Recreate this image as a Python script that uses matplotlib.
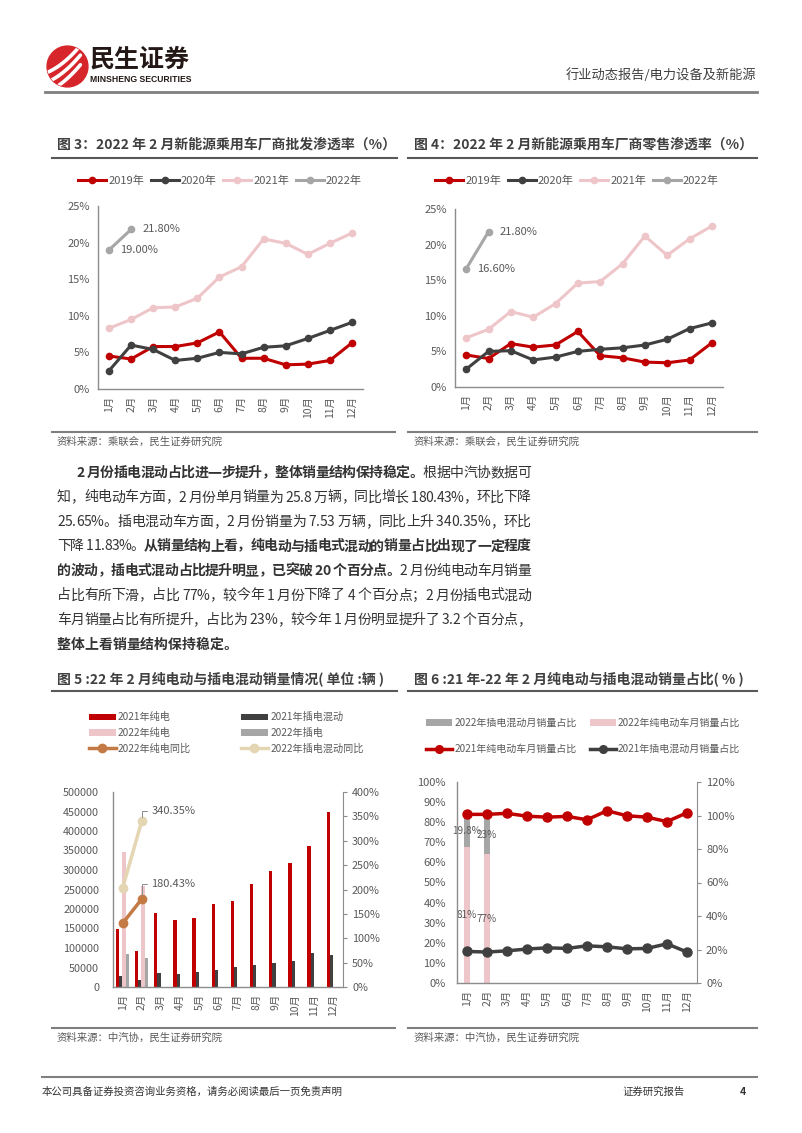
import numpy as np
import matplotlib
matplotlib.use('Agg')
import matplotlib.pyplot as plt
from matplotlib.patches import Circle
from matplotlib.lines import Line2D
from matplotlib.ticker import FuncFormatter, MultipleLocator

plt.rcParams['font.family'] = ['Noto Sans CJK SC', 'DejaVu Sans']

W, H = 802, 1133

months = [f'{i}月' for i in range(1, 13)]

# 图3 批发渗透率 (%)
pf_2019 = [4.5, 4.1, 5.8, 5.8, 6.3, 7.8, 4.2, 4.2, 3.3, 3.4, 3.9, 6.3]
pf_2020 = [2.5, 6.0, 5.4, 3.9, 4.2, 5.0, 4.8, 5.7, 5.9, 6.9, 8.0, 9.1]
pf_2021 = [8.3, 9.5, 11.1, 11.2, 12.4, 15.3, 16.7, 20.5, 19.9, 18.4, 19.9, 21.3]
pf_2022 = [19.0, 21.8]

# 图4 零售渗透率 (%)
rt_2019 = [4.5, 4.0, 6.1, 5.6, 5.9, 7.8, 4.4, 4.1, 3.5, 3.4, 3.8, 6.2]
rt_2020 = [2.5, 5.0, 5.1, 3.8, 4.2, 5.0, 5.3, 5.5, 5.9, 6.7, 8.2, 9.0]
rt_2021 = [6.9, 8.1, 10.6, 9.8, 11.7, 14.6, 14.8, 17.3, 21.2, 18.5, 20.8, 22.6]
rt_2022 = [16.6, 21.8]

# 图5 销量 (辆) 与同比 (%)
pure_21 = [150000, 92000, 190000, 171500, 178000, 212000, 220000, 265000, 297000, 317000, 362000, 449000]
phev_21 = [28000, 17000, 36000, 34000, 38500, 44500, 51000, 55500, 61000, 67000, 88000, 82000]
pure_22 = [347000, 258000]
phev_22 = [85700, 75300]
pure_yoy_22 = [130.5, 180.43]
phev_yoy_22 = [202.6, 340.35]

# 图6 占比 (%)
phev_share_22 = [19.8, 23.0]
pure_share_22 = [81.0, 77.0]
pure_share_21 = [83.9, 83.9, 84.4, 83.0, 82.5, 82.9, 81.2, 85.7, 83.2, 82.5, 80.3, 84.7]
phev_share_21 = [15.7, 15.4, 16.0, 16.9, 17.5, 17.2, 18.5, 18.0, 17.0, 17.2, 19.5, 15.4]

RED = '#C00000'
DARK = '#404040'
PINK = '#EEC6C9'
GREY = '#A6A6A6'
BROWN = '#C47A45'
BEIGE = '#E4D5B3'
TXT = '#404040'
TICK = '#595959'
AXC = '#8C8C8C'

fig = plt.figure(figsize=(W / 100, H / 100), dpi=100)
renderer = fig.canvas.get_renderer()


def rect(x0, y0, x1, y1):
    return [x0 / W, 1 - y1 / H, (x1 - x0) / W, (y1 - y0) / H]


def txt(x, y, s, **kw):
    return fig.text(x / W, 1 - y / H, s, **kw)


def hline(x0, x1, y, color='#7F7F7F', lw=1.5):
    fig.add_artist(Line2D([x0 / W, x1 / W], [1 - y / H, 1 - y / H], color=color, lw=lw))


def style_axes(ax):
    for s in ['top', 'right']:
        ax.spines[s].set_visible(False)
    for s in ['left', 'bottom']:
        ax.spines[s].set_color(AXC)
        ax.spines[s].set_linewidth(1.0)
    ax.tick_params(axis='both', length=0, colors=TICK, labelsize=8)
    ax.tick_params(axis='x', pad=5)
    ax.set_xticks(range(12))
    ax.set_xticklabels(months, rotation=90, fontsize=7.5)
    ax.set_xlim(-0.5, 11.5)
    ax.patch.set_visible(False)


# ---------- 页眉 ----------
lax = fig.add_axes(rect(46, 45, 89, 88))
lax.set_xlim(-1, 1)
lax.set_ylim(-1, 1)
lax.set_aspect('equal')
lax.axis('off')
circ = Circle((0, 0), 0.95, color='#D7262B')
lax.add_patch(circ)
xs = np.linspace(-1, 0.6, 50)
for c in (-0.55, -0.1, 0.35):
    ln, = lax.plot(xs, 0.9 * xs + c + 0.25 * xs ** 2, color='white', lw=2.6, solid_capstyle='round')
    ln.set_clip_path(circ)
txt(90, 60, '民生证券', fontsize=18, fontweight='bold', color='#231815', va='center')
txt(90, 80, 'MINSHENG SECURITIES', fontsize=6.2, fontweight='bold', color='#231815', va='center',
    family=['Liberation Sans Narrow', 'Liberation Sans', 'DejaVu Sans'])
txt(756, 75, '行业动态报告/电力设备及新能源', fontsize=9.5, color=TXT, ha='right', va='center')
hline(45, 757, 92, color='#808080', lw=2)


# ---------- 图3 / 图4 ----------
def penetration(box, s19, s20, s21, s22, title, tx, line_x, leg_cx):
    txt(tx, 145, title, fontsize=10, fontweight='bold', color=TXT, va='center')
    hline(line_x[0], line_x[1], 158, color='#595959', lw=1.5)
    ax = fig.add_axes(rect(*box))
    style_axes(ax)
    ax.plot(range(12), s19, color=RED, lw=2.2, marker='o', ms=4.5, label='2019年')
    ax.plot(range(12), s20, color=DARK, lw=2.2, marker='o', ms=4.5, label='2020年')
    ax.plot(range(12), s21, color=PINK, lw=2.2, marker='o', ms=4.5, label='2021年')
    ax.plot(range(len(s22)), s22, color=GREY, lw=2.2, marker='o', ms=4.5, label='2022年')
    ax.set_ylim(0, 25)
    ax.yaxis.set_major_locator(MultipleLocator(5))
    ax.yaxis.set_major_formatter(FuncFormatter(lambda v, p: f'{v:.0f}%'))
    ax.tick_params(axis='y', pad=6)
    for i, v in enumerate(s22):
        ax.annotate(f'{v:.2f}%', (i, v), xytext=(8, 0), textcoords='offset points',
                    fontsize=8, color=TICK, va='center')
    ax.legend(loc='center', bbox_to_anchor=(leg_cx / W, 1 - 181 / H), bbox_transform=fig.transFigure,
              ncol=4, frameon=False, fontsize=8, handlelength=2.5, handletextpad=0.2,
              columnspacing=0.6, labelcolor=TICK, numpoints=1)
    return ax


penetration((98, 206, 363, 389), pf_2019, pf_2020, pf_2021, pf_2022,
            '图 3：2022 年 2 月新能源乘用车厂商批发渗透率（%）', 57, (52, 397), 220)
penetration((455, 209, 723, 387), rt_2019, rt_2020, rt_2021, rt_2022,
            '图 4：2022 年 2 月新能源乘用车厂商零售渗透率（%）', 414, (408, 757), 577)

hline(52, 395, 432)
hline(408, 757, 432)
txt(57, 442, '资料来源：乘联会，民生证券研究院', fontsize=7.5, color=TICK, va='center')
txt(414, 442, '资料来源：乘联会，民生证券研究院', fontsize=7.5, color=TICK, va='center')

# ---------- 正文 ----------
FS = 10
para = [
    (76, [('2 月份插电混动占比进一步提升，整体销量结构保持稳定。', True), ('根据中汽协数据可', False)], True),
    (57, [('知，纯电动车方面，2 月份单月销量为 25.8 万辆，同比增长 180.43%，环比下降', False)], True),
    (57, [('25.65%。插电混动车方面，2 月份销量为 7.53 万辆，同比上升 340.35%，环比', False)], True),
    (57, [('下降 11.83%。', False), ('从销量结构上看，纯电动与插电式混动的销量占比出现了一定程度', True)], True),
    (57, [('的波动，插电式混动占比提升明显，已突破 20 个百分点。', True), ('2 月份纯电动车月销量', False)], True),
    (57, [('占比有所下滑，占比 77%，较今年 1 月份下降了 4 个百分点；2 月份插电式混动', False)], True),
    (57, [('车月销量占比有所提升，占比为 23%，较今年 1 月份明显提升了 3.2 个百分点，', False)], True),
    (57, [('整体上看销量结构保持稳定。', True)], False),
]
_wcache = {}


def char_w(c, bold):
    key = (c, bold)
    if key not in _wcache:
        def w(s):
            t = fig.text(0, 0, s, fontsize=FS, fontweight='bold' if bold else 'normal')
            e = t.get_window_extent(renderer).width
            t.remove()
            return e
        _wcache[key] = w('中' + c + '中') - w('中中')
    return _wcache[key]


right_edge = 531
for li, (x0, segs, justify) in enumerate(para):
    chars = [(c, b) for s, b in segs for c in s]
    widths = [char_w(c, b) for c, b in chars]
    gap = (right_edge - x0 - sum(widths)) / (len(chars) - 1) if justify else 0
    x = x0
    yb = 477 + li * 24.5
    for (c, b), w in zip(chars, widths):
        if c != ' ':
            txt(x, yb, c, fontsize=FS, fontweight='bold' if b else 'normal', color='#333333', va='baseline')
        x += w + gap

# ---------- 图5 ----------
txt(57, 679, '图 5 :22 年 2 月纯电动与插电混动销量情况( 单位 :辆 )', fontsize=10, fontweight='bold',
    color=TXT, va='center')
hline(52, 397, 691, color='#595959')
ax5 = fig.add_axes(rect(113, 792, 343, 987))
style_axes(ax5)
x = np.arange(12)
bw = 0.17
ax5.bar(x - 0.27, pure_21, bw, color=RED, label='2021年纯电')
ax5.bar(x - 0.10, phev_21, bw, color=DARK, label='2021年插电混动')
ax5.bar(np.arange(2) + 0.07, pure_22, bw, color=PINK, label='2022年纯电')
ax5.bar(np.arange(2) + 0.24, phev_22, bw, color=GREY, label='2022年插电')
ax5.set_ylim(0, 500000)
ax5.yaxis.set_major_locator(MultipleLocator(50000))
ax5.yaxis.set_major_formatter(FuncFormatter(lambda v, p: f'{v:.0f}'))
ax5.tick_params(axis='y', pad=10, labelsize=7.8)
ax5b = ax5.twinx()
ax5b.plot(range(2), pure_yoy_22, color=BROWN, lw=2.5, marker='o', ms=6, label='2022年纯电同比')
ax5b.plot(range(2), phev_yoy_22, color=BEIGE, lw=2.5, marker='o', ms=6, label='2022年插电混动同比')
ax5b.set_ylim(0, 400)
ax5b.yaxis.set_major_locator(MultipleLocator(50))
ax5b.yaxis.set_major_formatter(FuncFormatter(lambda v, p: f'{v:.0f}%'))
for s in ['top', 'left', 'bottom']:
    ax5b.spines[s].set_visible(False)
ax5b.spines['right'].set_color(AXC)
ax5b.tick_params(axis='y', length=3, colors=TICK, labelsize=7.8, direction='out', color=AXC)
for vals, dy in ((phev_yoy_22, 7), (pure_yoy_22, 11)):
    ax5b.annotate(f'{vals[1]:.2f}%', (1, vals[1]), xytext=(7, dy), textcoords='offset points',
                  fontsize=8, color=TICK, va='center',
                  arrowprops=dict(arrowstyle='-', color='#8C8C8C', lw=0.7, shrinkA=1, shrinkB=3,
                                  connectionstyle='angle,angleA=0,angleB=90,rad=0'))
h1, l1 = ax5.get_legend_handles_labels()
h2, l2 = ax5b.get_legend_handles_labels()
hs = [h1[0], h1[2], h2[0], h1[1], h1[3], h2[1]]
ls = [l1[0], l1[2], l2[0], l1[1], l1[3], l2[1]]
fig.legend(hs, ls, loc='center', bbox_to_anchor=(226 / W, 1 - 733 / H), ncol=2, frameon=False,
           fontsize=7.3, handlelength=2.7, handleheight=0.6, handletextpad=0.2, columnspacing=4.9,
           labelspacing=0.55, labelcolor=TICK, numpoints=1)
hline(52, 395, 1028)
txt(57, 1038, '资料来源：中汽协，民生证券研究院', fontsize=7.5, color=TICK, va='center')

# ---------- 图6 ----------
txt(414, 679, '图 6 :21 年-22 年 2 月纯电动与插电混动销量占比( % )', fontsize=10, fontweight='bold',
    color=TXT, va='center')
hline(408, 757, 691, color='#595959')
ax6 = fig.add_axes(rect(457, 782, 697, 983))
style_axes(ax6)
ax6b = ax6.twinx()
bx = np.arange(2)
ax6b.bar(bx, pure_share_22, 0.33, color=PINK, label='2022年纯电动车月销量占比')
ax6b.bar(bx, phev_share_22, 0.33, bottom=pure_share_22, color=GREY, label='2022年插电混动月销量占比')
for i in range(2):
    ax6b.text(i, pure_share_22[i] / 2, f'{pure_share_22[i]:g}%', ha='center', va='center',
              fontsize=7.2, color=TICK)
    ax6b.text(i, pure_share_22[i] + phev_share_22[i] / 2, f'{phev_share_22[i]:g}%', ha='center',
              va='center', fontsize=7.2, color=TICK)
ax6b.set_ylim(0, 120)
ax6b.yaxis.set_major_locator(MultipleLocator(20))
ax6b.yaxis.set_major_formatter(FuncFormatter(lambda v, p: f'{v:.0f}%'))
for s in ['top', 'left', 'bottom']:
    ax6b.spines[s].set_visible(False)
ax6b.spines['right'].set_color(AXC)
ax6b.tick_params(axis='y', length=3, colors=TICK, labelsize=8, color=AXC)
ax6.plot(range(12), pure_share_21, color=RED, lw=2.5, marker='o', ms=6.5, label='2021年纯电动车月销量占比')
ax6.plot(range(12), phev_share_21, color=DARK, lw=2.5, marker='o', ms=6.5, label='2021年插电混动月销量占比')
ax6.set_ylim(0, 100)
ax6.yaxis.set_major_locator(MultipleLocator(10))
ax6.yaxis.set_major_formatter(FuncFormatter(lambda v, p: f'{v:.0f}%'))
ax6.tick_params(axis='y', pad=8)
ax6.set_zorder(ax6b.get_zorder() + 1)
h1, l1 = ax6.get_legend_handles_labels()
h2, l2 = ax6b.get_legend_handles_labels()
fig.legend([h2[1], h1[0], h2[0], h1[1]], [l2[1], l1[0], l2[0], l1[1]], loc='center',
           bbox_to_anchor=(583 / W, 1 - 736 / H), ncol=2, frameon=False, fontsize=7.2,
           handlelength=2.6, handleheight=0.6, handletextpad=0.2, columnspacing=1.3,
           labelspacing=1.6, labelcolor=TICK, numpoints=1, markerscale=0.85)
hline(408, 757, 1028)
txt(414, 1038, '资料来源：中汽协，民生证券研究院', fontsize=7.5, color=TICK, va='center')

# ---------- 页脚 ----------
hline(42, 757, 1077, color='#808080', lw=1.5)
txt(42, 1092, '本公司具备证券投资咨询业务资格，请务必阅读最后一页免责声明', fontsize=7.5, color='#333333', va='center')
txt(622, 1092, '证券研究报告', fontsize=7.5, color='#333333', va='center')
txt(740, 1092, '4', fontsize=7.5, color='#333333', fontweight='bold', va='center')

fig.savefig('out.png', dpi=100)
